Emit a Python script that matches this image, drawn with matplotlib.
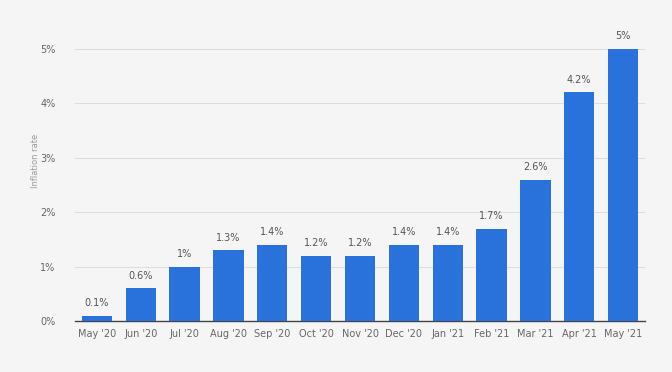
import numpy as np
import matplotlib.pyplot as plt

# dati
mesi = ["May '20", "Jun '20", "Jul '20", "Aug '20", "Sep '20", "Oct '20", "Nov '20",
        "Dec '20", "Jan '21", "Feb '21", "Mar '21", "Apr '21", "May '21"]
valori = [0.1, 0.6, 1.0, 1.3, 1.4, 1.2, 1.2, 1.4, 1.4, 1.7, 2.6, 4.2, 5.0]
etichette = ["0.1%", "0.6%", "1%", "1.3%", "1.4%", "1.2%", "1.2%",
             "1.4%", "1.4%", "1.7%", "2.6%", "4.2%", "5%"]

sfondo = "#f5f5f5"
fig = plt.figure(figsize=(6.72, 3.72), dpi=100, facecolor=sfondo)
ax = fig.add_axes([75 / 672, 1 - 321 / 372, 570 / 672, 321 / 372])
ax.set_facecolor(sfondo)

x = np.arange(len(mesi))
barre = ax.bar(x, valori, width=0.69, color="#2a72db", zorder=3)

for b, t in zip(barre, etichette):
    ax.text(b.get_x() + b.get_width() / 2, b.get_height() + 0.14, t,
            ha="center", va="bottom", fontsize=7, color="#555555")

ax.set_xlim(-0.5, len(mesi) - 0.5)
ax.set_ylim(0, 5.9)
ax.set_yticks([0, 1, 2, 3, 4, 5])
ax.set_yticklabels(["0%", "1%", "2%", "3%", "4%", "5%"])
ax.set_xticks(x)
ax.set_xticklabels(mesi)
ax.tick_params(axis="both", length=0, labelsize=7, colors="#666666")
ax.tick_params(axis="x", pad=6)
ax.tick_params(axis="y", pad=14)
ax.grid(axis="y", color="#dddddd", linewidth=0.7, zorder=0)

for lato in ["top", "right", "left"]:
    ax.spines[lato].set_visible(False)
ax.spines["bottom"].set_color("#444444")
ax.spines["bottom"].set_linewidth(1)

ax.set_ylabel("Inflation rate", fontsize=6, color="#999999", labelpad=0)

plt.savefig("out.png", dpi=100, facecolor=sfondo)
